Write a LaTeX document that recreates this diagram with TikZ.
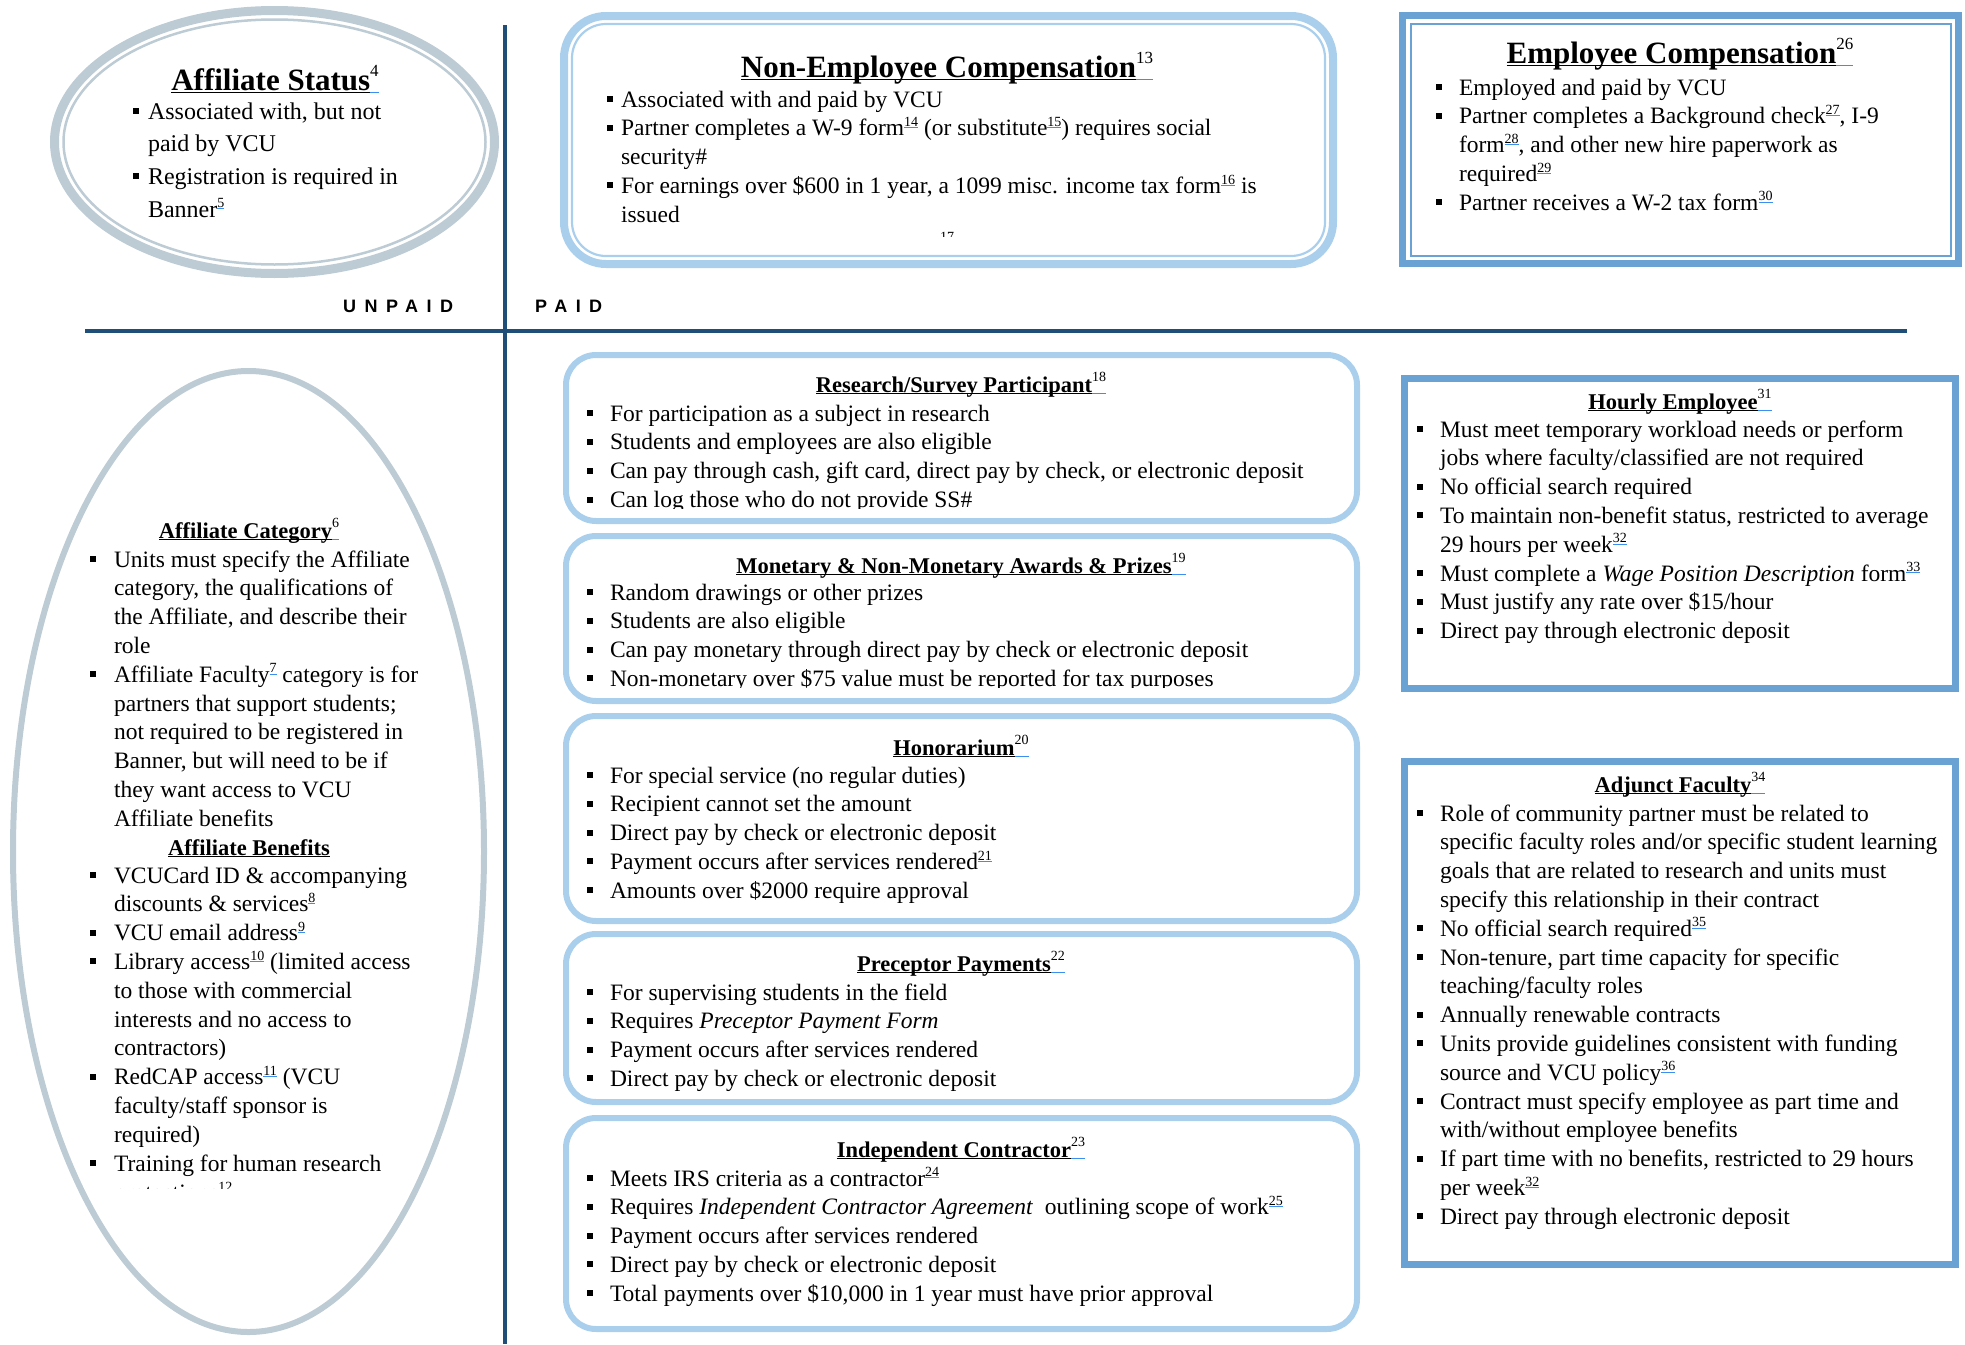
\documentclass[tikz,border=0pt]{standalone}
\usepackage{fontspec}
\setmainfont{Liberation Serif}
\newfontfamily\lblfont[LetterSpace=47]{Liberation Sans}
\usetikzlibrary{shapes.geometric}
\definecolor{cLight}{HTML}{AACFEC}
\definecolor{cMid}{HTML}{6AA2D4}
\definecolor{cGray}{HTML}{BDCBD4}
\definecolor{cDark}{HTML}{1F4E79}
\definecolor{cLink}{HTML}{3A8FF0}
\newlength\ulw
\newcommand\ulx[2]{\settowidth\ulw{#2}\rlap{\textcolor{#1}{\rule[-0.11em]{\ulw}{0.06em}}}#2}
\newcommand\fn[1]{\raisebox{0.4em}{\fontsize{14}{14}\selectfont\ulx{cLink}{#1}}}
\newcommand\tfn[2][14]{\ulx{cLink}{\raisebox{0.45em}{\fontsize{#1}{#1}\selectfont #2}}}
\newcommand\ttl[1]{\ulx{black}{\textbf{#1}}}
\newcommand\bl[1][23pt]{\leavevmode\llap{\rule[5pt]{6pt}{6pt}\hspace{\dimexpr#1-6pt\relax}}}
\tikzset{
  txt/.style={inner sep=0pt, outer sep=0pt, anchor=base west, font=\fontsize{23.5}{28.8}\selectfont},
  txtA/.style={txt, font=\fontsize{24}{32.7}\selectfont},
  bigttl/.style={inner sep=0pt, anchor=base, font=\fontsize{31}{36}\selectfont},
  smallttl/.style={inner sep=0pt, anchor=base, font=\fontsize{22.5}{28.8}\selectfont},
  sidelbl/.style={inner sep=0pt, anchor=base west, font=\lblfont\bfseries\fontsize{18}{18}\selectfont},
  divider/.style={draw=cDark, line width=3.8pt},
  midbox/.style={draw=cLight, line width=6pt, rounded corners=30pt, inner sep=0pt, minimum width=791pt},
  empbox/.style={draw=cMid, line width=7pt, inner sep=0pt, minimum width=551pt},
  grayell/.style={ellipse, draw=cGray, inner sep=0pt},
}
\begin{document}
\begin{tikzpicture}[x=1pt,y=-1pt]
\useasboundingbox (0,0) rectangle (1965,1344);
% dividers
\coordinate (vt) at (505,25); \coordinate (vb) at (505,1344);
\coordinate (hl) at (85,331); \coordinate (hr) at (1907,331);
\draw[divider] (vt) -- (vb);
\draw[divider] (hl) -- (hr);
\node[sidelbl] (unpaid) at (343,312) {UNPAID};
\node[sidelbl] (paid) at (535,312) {PAID};

% Affiliate status ellipse
\node[grayell, line width=9pt, minimum width=440pt, minimum height=263pt] (aso) at (274.5,142) {};
\node[grayell, line width=2.5pt, minimum width=422pt, minimum height=245pt] (asi) at (274.5,142) {};
\node[bigttl] (ast) at (275,90) {\ttl{Affiliate Status}\tfn[17]{4}};
\node[txtA] (asb) at (148,119) {\parbox[t]{400pt}{\bl[15pt]Associated with, but not\\ paid by VCU\\ \bl[15pt]Registration is required in\\ Banner\fn{5}}};

% Left big ellipse
\node[grayell, line width=6pt, minimum width=471pt, minimum height=961pt] (ace) at (248.5,851.5) {};
\node[smallttl] (act) at (249,538) {\ttl{Affiliate Category}\tfn{6}};
\node[txt] (acb) at (114,567) {\parbox[t]{400pt}{\bl[24pt]Units must specify the Affiliate\\ category, the qualifications of\\ the Affiliate, and describe their\\ role\\ \bl[24pt]Affiliate Faculty\fn{7} category is for\\ partners that support students;\\ not required to be registered in\\ Banner, but will need to be if\\ they want access to VCU\\ Affiliate benefits}};
\node[smallttl] (abt) at (249,855) {\ttl{Affiliate Benefits}};
\node[txt] (abb) at (114,883) {\parbox[t]{400pt}{\bl[24pt]VCUCard ID \& accompanying\\ discounts \& services\fn{8}\\ \bl[24pt]VCU email address\fn{9}\\ \bl[24pt]Library access\fn{10} (limited access\\ to those with commercial\\ interests and no access to\\ contractors)\\ \bl[24pt]RedCAP access\fn{11} (VCU\\ faculty/staff sponsor is\\ required)\\ \bl[24pt]Training for human research}};
\begin{scope}
\clip (100,1170) rectangle (420,1188);
\node[txt] (abc) at (114,1200.8) {protections\fn{12}};
\end{scope}

% Non-employee compensation
\node[draw=cLight, line width=8pt, rounded corners=42pt, minimum width=769pt, minimum height=248pt, inner sep=0pt] (neo) at (948.5,140) {};
\node[draw=cLight, line width=2.2pt, rounded corners=34pt, minimum width=753pt, minimum height=232pt, inner sep=0pt] (nei) at (948.5,140) {};
\node[bigttl] (net) at (947,77) {\ttl{Non-Employee Compensation}\tfn[17]{13}};
\node[txt] (neb) at (621,107) {\parbox[t]{800pt}{\bl[14pt]Associated with and paid by VCU\\ \bl[14pt]Partner completes a W-9 form\fn{14} (or substitute\fn{15}) requires social\\ security\#\\ \bl[14pt]For earnings over \$600 in 1 year, a 1099 misc. income tax form\fn{16} is\\ issued}};
\begin{scope}
\clip (900,225) rectangle (1000,236);
\node[txt, anchor=base] (nec) at (947,251) {\fn{17}};
\end{scope}

% Employee compensation
\node[draw=cMid, line width=7pt, minimum width=556pt, minimum height=248pt, inner sep=0pt] (eco) at (1680.5,139.5) {};
\node[draw=cMid, line width=2pt, minimum width=540pt, minimum height=232pt, inner sep=0pt] (eci) at (1680.5,139.5) {};
\node[bigttl] (ect) at (1680,63) {\ttl{Employee Compensation}\tfn[17]{26}};
\node[txt] (ecb) at (1459,95) {\parbox[t]{600pt}{\bl Employed and paid by VCU\\ \bl Partner completes a Background check\fn{27}, I-9\\ form\fn{28}, and other new hire paperwork as\\ required\fn{29}\\ \bl Partner receives a W-2 tax form\fn{30}}};

% Research / Survey
\node[midbox, minimum height=166pt] (rsx) at (961.5,438) {};
\node[smallttl] (rst) at (961,392) {\ttl{Research/Survey Participant}\tfn{18}};
\node[txt] (rsb) at (610,421) {\parbox[t]{800pt}{\bl For participation as a subject in research\\ \bl Students and employees are also eligible\\ \bl Can pay through cash, gift card, direct pay by check, or electronic deposit}};
\begin{scope}
\clip (570,480) rectangle (1350,508.5);
\node[txt] (rsc) at (610,507.6) {\bl Can log those who do not provide SS\#};
\end{scope}

% Monetary
\node[midbox, minimum height=165pt] (mnx) at (961.5,618.5) {};
\node[smallttl] (mnt) at (961,573) {\ttl{Monetary \& Non-Monetary Awards \& Prizes}\tfn{19}};
\node[txt] (mnb) at (610,600) {\parbox[t]{800pt}{\bl Random drawings or other prizes\\ \bl Students are also eligible\\ \bl Can pay monetary through direct pay by check or electronic deposit}};
\begin{scope}
\clip (570,660) rectangle (1350,687.5);
\node[txt] (mnc) at (610,686.4) {\bl Non-monetary over \$75 value must be reported for tax purposes};
\end{scope}

% Honorarium
\node[midbox, minimum height=205pt] (hnx) at (961.5,818.5) {};
\node[smallttl] (hnt) at (961,755) {\ttl{Honorarium}\tfn{20}};
\node[txt] (hnb) at (610,783) {\parbox[t]{800pt}{\bl For special service (no regular duties)\\ \bl Recipient cannot set the amount\\ \bl Direct pay by check or electronic deposit\\ \bl Payment occurs after services rendered\fn{21}\\ \bl Amounts over \$2000 require approval}};

% Preceptor
\node[midbox, minimum height=168pt] (ppx) at (961.5,1018) {};
\node[smallttl] (ppt) at (961,971) {\ttl{Preceptor Payments}\tfn{22}};
\node[txt] (ppb) at (610,1000) {\parbox[t]{800pt}{\bl For supervising students in the field\\ \bl Requires \textit{Preceptor Payment Form}\\ \bl Payment occurs after services rendered\\ \bl Direct pay by check or electronic deposit}};

% Independent contractor
\node[midbox, minimum height=211pt] (icx) at (961.5,1223.5) {};
\node[smallttl] (ict) at (961,1157) {\ttl{Independent Contractor}\tfn{23}};
\node[txt] (icb) at (610,1186) {\parbox[t]{800pt}{\bl Meets IRS criteria as a contractor\fn{24}\\ \bl Requires \textit{Independent Contractor Agreement}\ \ outlining scope of work\fn{25}\\ \bl Payment occurs after services rendered\\ \bl Direct pay by check or electronic deposit\\ \bl Total payments over \$10,000 in 1 year must have prior approval}};

% Hourly employee
\node[empbox, minimum height=310pt] (hex) at (1680,533.5) {};
\node[smallttl] (het) at (1680,409) {\ttl{Hourly Employee}\tfn{31}};
\node[txt] (heb) at (1440,437) {\parbox[t]{600pt}{\bl Must meet temporary workload needs or perform\\ jobs where faculty/classified are not required\\ \bl No official search required\\ \bl To maintain non-benefit status, restricted to average\\ 29 hours per week\fn{32}\\ \bl Must complete a \textit{Wage Position Description} form\fn{33}\\ \bl Must justify any rate over \$15/hour\\ \bl Direct pay through electronic deposit}};

% Adjunct faculty
\node[empbox, minimum height=503pt] (afx) at (1680,1013) {};
\node[smallttl] (aft) at (1680,792) {\ttl{Adjunct Faculty}\tfn{34}};
\node[txt] (afb) at (1440,821) {\parbox[t]{600pt}{\bl Role of community partner must be related to\\ specific faculty roles and/or specific student learning\\ goals that are related to research and units must\\ specify this relationship in their contract\\ \bl No official search required\fn{35}\\ \bl Non-tenure, part time capacity for specific\\ teaching/faculty roles\\ \bl Annually renewable contracts\\ \bl Units provide guidelines consistent with funding\\ source and VCU policy\fn{36}\\ \bl Contract must specify employee as part time and\\ with/without employee benefits\\ \bl If part time with no benefits, restricted to 29 hours\\ per week\fn{32}\\ \bl Direct pay through electronic deposit}};
\end{tikzpicture}
\end{document}
